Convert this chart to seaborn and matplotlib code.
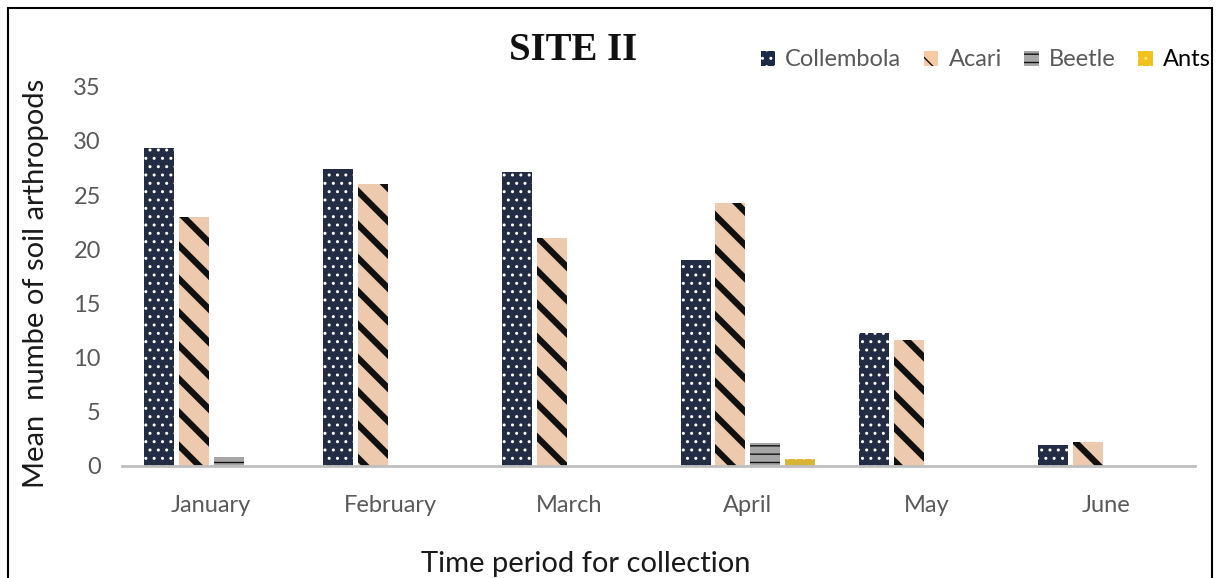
#%%
import numpy as np
import pandas as pd
import matplotlib.pyplot as plt
import seaborn as sns
from matplotlib.patches import Patch, Rectangle

# %%
months = ['January', 'February', 'March', 'April', 'May', 'June']
collembola = [29.3, 27.4, 27.1, 19.0, 12.3, 1.9]
acari = [23.0, 26.0, 21.0, 24.3, 11.6, 2.2]
beetle = [0.8, 0.0, 0.0, 2.1, 0.0, 0.0]
ants = [0.0, 0.0, 0.0, 0.6, 0.0, 0.0]
groups = ['Collembola', 'Acari', 'Beetle', 'Ants']

df = pd.DataFrame({'month': months * 4,
                   'group': np.repeat(groups, len(months)),
                   'value': collembola + acari + beetle + ants})

# %%
face = ['#1c2a4a', '#f7c9a4', '#a6a6a6', '#f2c21b']
hatch_col = ['#ffffff', '#111111', '#111111', '#fbe48a']
hatches = ['..', '\\', '--', '..']

sns.set_style('white')
plt.rcParams['font.family'] = ['Lato', 'DejaVu Sans']
plt.rcParams['hatch.linewidth'] = 1.0

fig = plt.figure(figsize=(12.17, 5.78), dpi=100)
ax = fig.add_axes([0.100, 0.194, 0.882, 0.656])
sns.barplot(data=df, x='month', y='value', hue='group', hue_order=groups,
            palette=face, width=0.78, gap=0.14, legend=False, ax=ax)

for i, cont in enumerate(ax.containers):
    for bar in cont:
        bar.set_hatch(hatches[i])
        bar.set_edgecolor(hatch_col[i])
        bar.set_linewidth(0)
        if i == 1 and hasattr(bar, 'set_hatch_linewidth'):
            bar.set_hatch_linewidth(4.5)

ax.set_ylim(0, 35)
ax.set_xlim(-0.5, 5.5)
ax.set_yticks(range(0, 36, 5))
for s in ['top', 'right', 'left']:
    ax.spines[s].set_visible(False)
ax.spines['bottom'].set_color('#bfbfbf')
ax.spines['bottom'].set_linewidth(2)
ax.tick_params(axis='both', length=0, labelsize=17, colors='#595959')
ax.tick_params(axis='x', pad=21)
ax.tick_params(axis='y', pad=15)
ax.set_xlabel('')
ax.set_ylabel('Mean  numbe of soil arthropods', fontsize=21, color='#1a1a1a')
ax.yaxis.set_label_coords(-0.068, 0.48)

fig.text(586 / 1217, 1 - 572 / 578, 'Time period for collection', fontsize=21,
         ha='center', va='baseline', color='#1a1a1a')
fig.text(573 / 1217, 1 - 60 / 578, 'SITE II', fontsize=28, fontweight='bold',
         family='Liberation Serif', ha='center', va='baseline', color='#111111')

handles = [Patch(facecolor=face[i], edgecolor=hatch_col[i], hatch=hatches[i], linewidth=0)
           for i in range(4)]
leg = ax.legend(handles, groups, loc='center right', bbox_to_anchor=(1211 / 1217, 1 - 60 / 578),
                bbox_transform=fig.transFigure, ncol=4, frameon=False, fontsize=17,
                handlelength=0.6, handleheight=0.6, handletextpad=0.45,
                columnspacing=0.95, borderpad=0, borderaxespad=0)
for t in leg.get_texts():
    t.set_color('#595959')
leg.get_texts()[3].set_color('#000000')

fig.patches.append(Rectangle((0.0066, -0.01), 0.9894, 0.9962, transform=fig.transFigure,
                             fill=False, edgecolor='black', linewidth=1.5))

plt.savefig('out.png', dpi=100)
